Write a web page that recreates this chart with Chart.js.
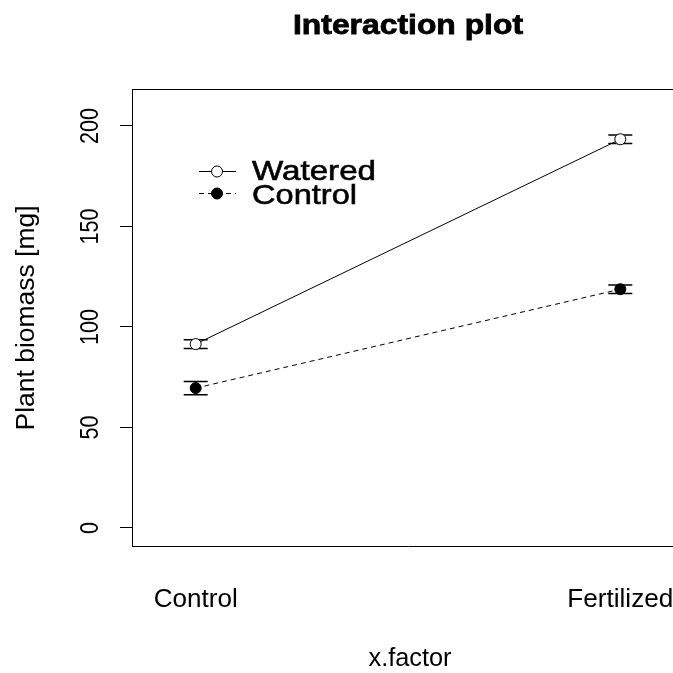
<!DOCTYPE html>
<html><head><meta charset="utf-8">
<script src="https://cdn.jsdelivr.net/npm/chart.js@4/dist/chart.umd.min.js"></script>
<style>
html,body{margin:0;padding:0;overflow:hidden;background:#fff;width:673px;height:673px}
#wrap{position:absolute;left:0;top:0;width:700px;height:673px}
canvas{display:block}
</style></head>
<body><div id="wrap"><canvas id="c" width="700" height="673" style="width:700px;height:673px"></canvas></div>
<script>
// ---- data ----
const categories = ['Control', 'Fertilized'];
const seriesNames = ['Watered', 'Control'];
const wateredMeans = [91.5, 193.4];
const wateredErr = [2.2, 2.1];
const controlMeans = [69.6, 118.8];
const controlErr = [3.3, 2.1];
const yTicks = [0, 50, 100, 150, 200];
const titleText = 'Interaction plot';
const xTitle = 'x.factor';
const yTitle = 'Plant biomass [mg]';

const FONT = '"Liberation Sans", Arial, sans-serif';

function txt(ctx, s, x, y, size, weight, opts) {
  ctx.save();
  ctx.font = weight + ' ' + size + 'px ' + FONT;
  const m = ctx.measureText(s).width;
  let sx = 1;
  if (opts.width) sx = opts.width / m;
  if (opts.sx) sx = opts.sx;
  ctx.translate(x, y);
  if (opts.rot) ctx.rotate(opts.rot);
  ctx.scale(sx, 1);
  ctx.textAlign = opts.align || 'center';
  ctx.textBaseline = 'alphabetic';
  ctx.fillStyle = '#000';
  ctx.fillText(s, 0, 0);
  if (opts.stroke) {
    ctx.strokeStyle = '#000';
    ctx.lineWidth = opts.stroke;
    ctx.strokeText(s, 0, 0);
  }
  ctx.restore();
}

const errs = [wateredErr, controlErr];

const errorBars = {
  id: 'errorBars',
  beforeDatasetsDraw(chart) {
    const ctx = chart.ctx, xs = chart.scales.x, ys = chart.scales.y;
    ctx.save();
    ctx.strokeStyle = '#000';
    ctx.lineWidth = 1.5;
    chart.data.datasets.forEach((ds, di) => {
      ds.data.forEach((p, i) => {
        const px = xs.getPixelForValue(p.x);
        const y1 = ys.getPixelForValue(p.y + errs[di][i]);
        const y2 = ys.getPixelForValue(p.y - errs[di][i]);
        ctx.beginPath();
        ctx.moveTo(px, y1); ctx.lineTo(px, y2);
        ctx.moveTo(px - 12, y1); ctx.lineTo(px + 12, y1);
        ctx.moveTo(px - 12, y2); ctx.lineTo(px + 12, y2);
        ctx.stroke();
      });
    });
    ctx.restore();
  }
};

const decorations = {
  id: 'decorations',
  afterDraw(chart) {
    const ctx = chart.ctx, xs = chart.scales.x, ys = chart.scales.y, a = chart.chartArea;
    // top frame line
    ctx.save();
    ctx.strokeStyle = '#000'; ctx.lineWidth = 1;
    ctx.beginPath(); ctx.moveTo(a.left, a.top + 0.5); ctx.lineTo(a.right, a.top + 0.5); ctx.stroke();
    ctx.restore();
    // title
    txt(ctx, titleText, 408, 34, 28, 'bold', {width: 230, stroke: 0.8});
    // x tick labels
    txt(ctx, categories[0], xs.getPixelForValue(1), 607, 26, 'normal', {width: 84});
    txt(ctx, categories[1], xs.getPixelForValue(2), 607, 26, 'normal', {width: 106});
    // x title
    txt(ctx, xTitle, 410, 666, 26, 'normal', {width: 83});
    // y title
    txt(ctx, yTitle, 34, 318, 25, 'normal', {width: 225, rot: -Math.PI / 2});
    // y tick labels
    ctx.save();
    ctx.font = 'normal 25px ' + FONT;
    const k = 36 / ctx.measureText('200').width;
    ctx.restore();
    yTicks.forEach(v => {
      txt(ctx, String(v), 98, ys.getPixelForValue(v), 25, 'normal', {sx: k, rot: -Math.PI / 2});
    });
    // legend
    ctx.save();
    ctx.strokeStyle = '#000'; ctx.lineWidth = 1;
    ctx.beginPath(); ctx.moveTo(199, 171.5); ctx.lineTo(236, 171.5); ctx.stroke();
    ctx.setLineDash([5, 4]);
    ctx.beginPath(); ctx.moveTo(199, 193.5); ctx.lineTo(236, 193.5); ctx.stroke();
    ctx.setLineDash([]);
    ctx.fillStyle = '#fff';
    ctx.beginPath(); ctx.arc(217, 171.5, 5.5, 0, Math.PI * 2); ctx.fill(); ctx.stroke();
    ctx.fillStyle = '#000';
    ctx.beginPath(); ctx.arc(217, 193.5, 5.5, 0, Math.PI * 2); ctx.fill(); ctx.stroke();
    ctx.restore();
    txt(ctx, seriesNames[0], 252, 180, 28, 'normal', {width: 124, align: 'left', stroke: 0.6});
    txt(ctx, seriesNames[1], 252, 204, 28, 'normal', {width: 105, align: 'left', stroke: 0.6});
  }
};

new Chart(document.getElementById('c'), {
  type: 'scatter',
  data: {
    datasets: [
      {
        label: seriesNames[0],
        data: wateredMeans.map((v, i) => ({x: i + 1, y: v})),
        showLine: true,
        borderColor: '#000', borderWidth: 1,
        pointRadius: 5.5, pointBackgroundColor: '#fff', pointBorderColor: '#000', pointBorderWidth: 1
      },
      {
        label: seriesNames[1],
        data: controlMeans.map((v, i) => ({x: i + 1, y: v})),
        showLine: true,
        borderColor: '#000', borderWidth: 1, borderDash: [5, 4],
        pointRadius: 5.5, pointBackgroundColor: '#000', pointBorderColor: '#000', pointBorderWidth: 1
      }
    ]
  },
  options: {
    responsive: false,
    animation: false,
    layout: {padding: {left: 0, right: 16, top: 89, bottom: 127}},
    plugins: {legend: {display: false}, tooltip: {enabled: false}, title: {display: false}},
    scales: {
      x: {
        type: 'linear', min: 0.85, max: 2.15,
        grid: {display: false},
        ticks: {display: false},
        border: {display: true, color: '#000', width: 1},
        afterFit: s => { s.height = 0; }
      },
      y: {
        min: -8.96, max: 218.4,
        afterBuildTicks: s => { s.ticks = yTicks.map(v => ({value: v})); },
        ticks: {display: false},
        grid: {drawOnChartArea: false, drawTicks: true, tickLength: 12, color: '#000', lineWidth: 1},
        border: {display: true, color: '#000', width: 1},
        afterFit: s => { s.width = 132; }
      }
    }
  },
  plugins: [errorBars, decorations]
});
</script>
</body></html>
